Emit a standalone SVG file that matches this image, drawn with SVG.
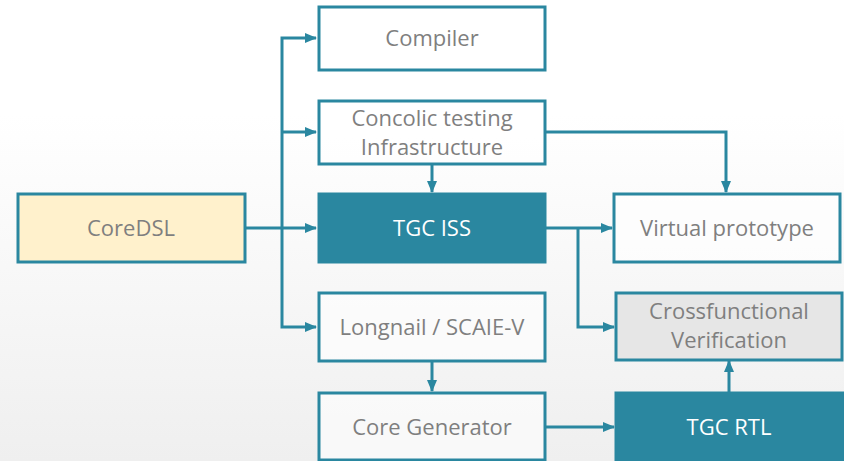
<svg xmlns="http://www.w3.org/2000/svg" width="844" height="461" viewBox="0 0 844 461">
  <defs>
    <linearGradient id="bg" x1="0" y1="0" x2="0" y2="1">
      <stop offset="0" stop-color="#ffffff"/>
      <stop offset="0.25" stop-color="#ffffff"/>
      <stop offset="1" stop-color="#efefef"/>
    </linearGradient>
    <marker id="ah" markerWidth="12" markerHeight="10" refX="11" refY="5" orient="auto" markerUnits="userSpaceOnUse">
      <path d="M0,0 L12,5 L0,10 Z" fill="#2a87a0"/>
    </marker>
  </defs>
  <style>
    .box { stroke: #2a87a0; stroke-width: 3; fill: #ffffff; fill-opacity: 0.6; }
    .dark { stroke: #2a87a0; stroke-width: 3; fill: #2a87a0; }
    .core { stroke: #2a87a0; stroke-width: 3; fill: #fff1cc; }
    .grey { stroke: #2a87a0; stroke-width: 3; fill: #e6e6e6; }
    .t { font-family: "Open Sans", "Noto Sans", "Liberation Sans", sans-serif; font-size: 22px; fill: #7f7f7f; text-anchor: middle; }
    .tw { fill: #ffffff; }
    .c { stroke: #2a87a0; stroke-width: 3; fill: none; marker-end: url(#ah); }
  </style>
  <rect x="0" y="0" width="844" height="461" fill="url(#bg)"/>

  <g id="connectors">
    <path class="c" d="M245,228 H316"/>
    <path class="c" d="M282,228 V38 H316"/>
    <path class="c" d="M282,132 H316"/>
    <path class="c" d="M282,228 V327 H316"/>
    <path class="c" d="M432,164 V192"/>
    <path class="c" d="M546,132 H726 V192"/>
    <path class="c" d="M546,228 H612"/>
    <path class="c" d="M578,228 V327 H614"/>
    <path class="c" d="M432,361 V391"/>
    <path class="c" d="M546,427 H614"/>
    <path class="c" d="M729,392 V361"/>
  </g>

  <g id="compiler">
    <rect class="box" x="319" y="7" width="226" height="63"/>
    <text class="t" x="432" y="46">Compiler</text>
  </g>
  <g id="concolic">
    <rect class="box" x="319" y="101" width="226" height="63"/>
    <text class="t" x="432" y="126">Concolic testing</text>
    <text class="t" x="432" y="155">Infrastructure</text>
  </g>
  <g id="coredsl">
    <rect class="core" x="18" y="194" width="227" height="68"/>
    <text class="t" x="131" y="236">CoreDSL</text>
  </g>
  <g id="tgc-iss">
    <rect class="dark" x="319" y="194" width="226" height="68"/>
    <text class="t tw" x="432" y="236">TGC ISS</text>
  </g>
  <g id="virtual-prototype">
    <rect class="box" x="614" y="194" width="226" height="68"/>
    <text class="t" x="727" y="236">Virtual prototype</text>
  </g>
  <g id="longnail">
    <rect class="box" x="319" y="293" width="226" height="68"/>
    <text class="t" x="432" y="335">Longnail / SCAIE-V</text>
  </g>
  <g id="crossfunctional">
    <rect class="grey" x="616" y="293" width="226" height="67"/>
    <text class="t" x="729" y="319">Crossfunctional</text>
    <text class="t" x="729" y="348">Verification</text>
  </g>
  <g id="core-generator">
    <rect class="box" x="319" y="393" width="226" height="67"/>
    <text class="t" x="432" y="435">Core Generator</text>
  </g>
  <g id="tgc-rtl">
    <rect class="dark" x="616" y="393" width="230" height="70"/>
    <text class="t tw" x="729" y="435">TGC RTL</text>
  </g>
</svg>
